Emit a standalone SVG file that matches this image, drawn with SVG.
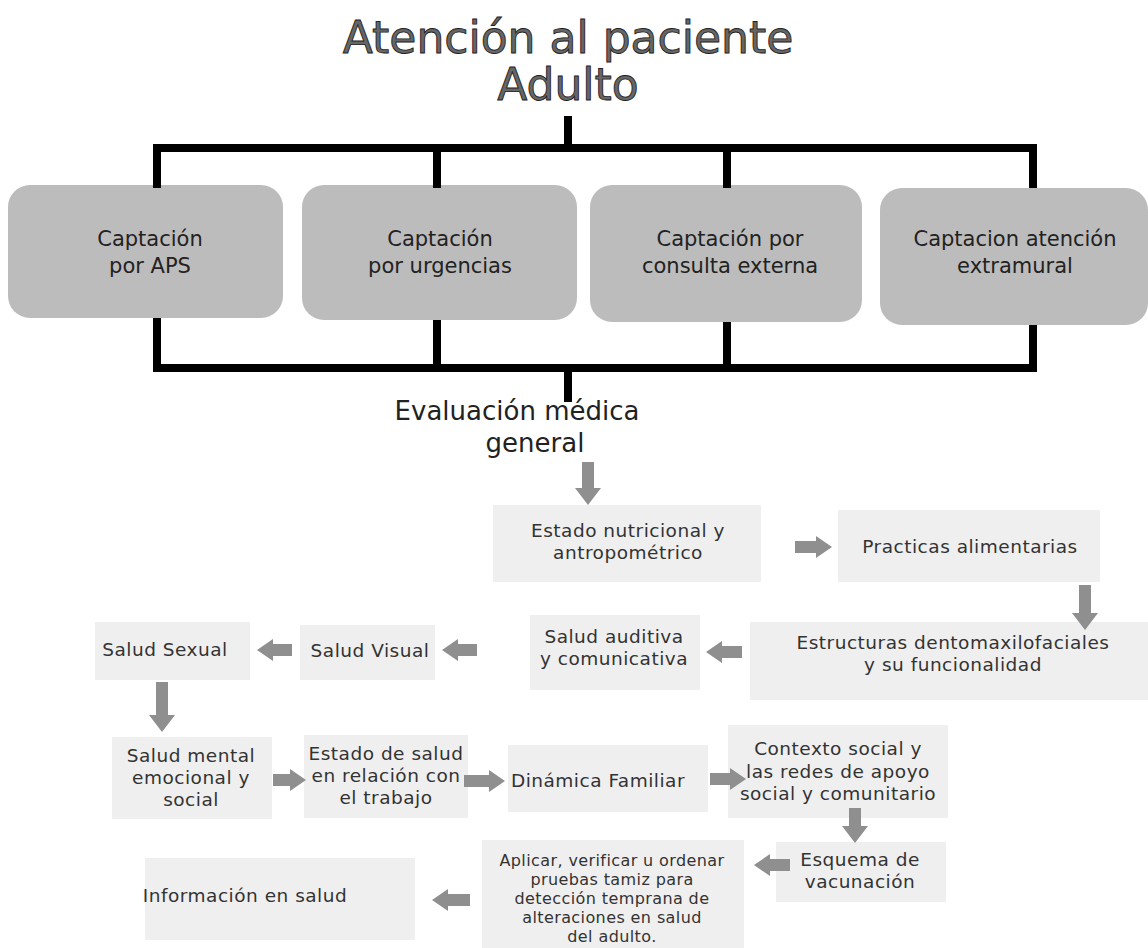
<svg xmlns="http://www.w3.org/2000/svg" width="1148" height="948" viewBox="0 0 1148 948">
<style>
.title{font-family:"DejaVu Sans",sans-serif;font-size:44px;fill:#666;stroke:#222;stroke-width:0.9;text-anchor:middle}
.sub{font-family:"DejaVu Sans",sans-serif;font-size:26px;fill:#222;text-anchor:middle}
.top{fill:#bcbcbc}
.tt{font-family:"DejaVu Sans",sans-serif;font-size:21px;fill:#222;text-anchor:middle}
.low{fill:#efefef}
.lt{font-family:"DejaVu Sans",sans-serif;font-size:18.5px;letter-spacing:0.5px;fill:#333;text-anchor:middle}
.ls{font-family:"DejaVu Sans",sans-serif;font-size:16px;letter-spacing:0.4px;fill:#333;text-anchor:middle}
.ln{stroke:#000;stroke-width:8;fill:none}
.ar{fill:#8f8f8f}
</style>
<g id="title">
<text class="title" x="568" y="53">Atención al paciente</text>
<text class="title" x="568" y="100">Adulto</text>
</g>
<g id="n-aps"><rect class="top" x="8" y="185" width="275" height="133" rx="22"/><text class="tt" x="150" y="246">Captación</text><text class="tt" x="150" y="273">por APS</text></g>
<g id="n-urg"><rect class="top" x="302" y="185" width="275" height="135" rx="22"/><text class="tt" x="440" y="246">Captación</text><text class="tt" x="440" y="273">por urgencias</text></g>
<g id="n-ext"><rect class="top" x="590" y="185" width="272" height="137" rx="22"/><text class="tt" x="730" y="246">Captación por</text><text class="tt" x="730" y="273">consulta externa</text></g>
<g id="n-extra"><rect class="top" x="880" y="188" width="268" height="137" rx="22"/><text class="tt" x="1015" y="246">Captacion atención</text><text class="tt" x="1015" y="273">extramural</text></g>
<g id="n-eval"><text class="sub" x="517" y="420">Evaluación médica</text><text class="sub" x="535" y="452">general</text></g>
<g id="n1"><rect class="low" x="493" y="505" width="268" height="77"/><text class="lt" x="628" y="537">Estado nutricional y</text><text class="lt" x="628" y="559">antropométrico</text></g>
<g id="n2"><rect class="low" x="838" y="510" width="262" height="72"/><text class="lt" x="970" y="553">Practicas alimentarias</text></g>
<g id="n3"><rect class="low" x="750" y="622" width="398" height="78"/><text class="lt" x="953" y="649">Estructuras dentomaxilofaciales</text><text class="lt" x="953" y="671">y su funcionalidad</text></g>
<g id="n4"><rect class="low" x="530" y="615" width="170" height="75"/><text class="lt" x="614" y="643">Salud auditiva</text><text class="lt" x="614" y="665">y comunicativa</text></g>
<g id="n5"><rect class="low" x="300" y="625" width="135" height="55"/><text class="lt" x="370" y="657">Salud Visual</text></g>
<g id="n6"><rect class="low" x="95" y="622" width="155" height="58"/><text class="lt" x="165" y="656">Salud Sexual</text></g>
<g id="n7"><rect class="low" x="112" y="737" width="160" height="82"/><text class="lt" x="191" y="762">Salud mental</text><text class="lt" x="191" y="784">emocional y</text><text class="lt" x="191" y="806">social</text></g>
<g id="n8"><rect class="low" x="304" y="735" width="164" height="83"/><text class="lt" x="386" y="760">Estado de salud</text><text class="lt" x="386" y="782">en relación con</text><text class="lt" x="386" y="804">el trabajo</text></g>
<g id="n9"><rect class="low" x="508" y="745" width="200" height="67"/><text class="lt" x="598" y="787">Dinámica Familiar</text></g>
<g id="n10"><rect class="low" x="728" y="725" width="220" height="93"/><text class="lt" x="838" y="755">Contexto social y</text><text class="lt" x="838" y="778">las redes de apoyo</text><text class="lt" x="838" y="800">social y comunitario</text></g>
<g id="n11"><rect class="low" x="776" y="842" width="170" height="60"/><text class="lt" x="860" y="866">Esquema de</text><text class="lt" x="860" y="888">vacunación</text></g>
<g id="n12"><rect class="low" x="482" y="840" width="262" height="108"/><text class="ls" x="612" y="866">Aplicar, verificar u ordenar</text><text class="ls" x="612" y="885">pruebas tamiz para</text><text class="ls" x="612" y="904">detección temprana de</text><text class="ls" x="612" y="923">alteraciones en salud</text><text class="ls" x="612" y="942">del adulto.</text></g>
<g id="n13"><rect class="low" x="145" y="858" width="270" height="82"/><text class="lt" x="245" y="902">Información en salud</text></g>
<g id="connectors">
<path class="ln" d="M568 116V148M153 148H1037M157 148V188M437 148V188M727 148V188M1033 148V188"/>
<path class="ln" d="M157 318V368M437 320V368M727 322V368M1033 325V368M153 368H1037M568 368V402"/>
<polygon class="ar" points="582,462 594,462 594,488 601,488 588,505 575,488 582,488"/>
<polygon class="ar" points="795,541 816,541 816,536 832,547 816,558 816,553 795,553"/>
<polygon class="ar" points="1079,585 1091,585 1091,613 1098,613 1085,630 1072,613 1079,613"/>
<polygon class="ar" points="742,646 722,646 722,641 706,652 722,663 722,658 742,658"/>
<polygon class="ar" points="477,644 458,644 458,639 442,650 458,661 458,656 477,656"/>
<polygon class="ar" points="292,644 273,644 273,639 257,650 273,661 273,656 292,656"/>
<polygon class="ar" points="156,682 168,682 168,715 175,715 162,732 149,715 156,715"/>
<polygon class="ar" points="273,774 290,774 290,769 306,780 290,791 290,786 273,786"/>
<polygon class="ar" points="464,775 489,775 489,770 505,781 489,792 489,787 464,787"/>
<polygon class="ar" points="710,773 730,773 730,768 746,779 730,790 730,785 710,785"/>
<polygon class="ar" points="849,808 861,808 861,826 868,826 855,843 842,826 849,826"/>
<polygon class="ar" points="790,859 770,859 770,854 754,865 770,876 770,871 790,871"/>
<polygon class="ar" points="470,894 448,894 448,889 432,900 448,911 448,906 470,906"/>
</g>
</svg>
